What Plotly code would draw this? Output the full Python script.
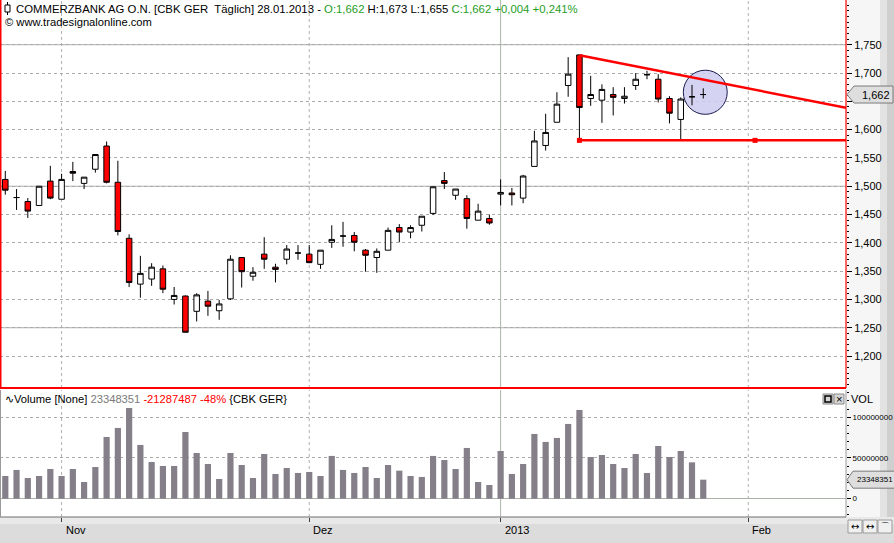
import plotly.graph_objects as go

# ---------------- data ----------------
idx = list(range(63))                       # trading-day index (25.10.2012 .. 28.01.2013)
month_ticks = [5, 27, 44, 66]               # 01.11., 03.12., 02.01.2013, 01.02.
month_labels = ["Nov", "Dez", "2013", "Feb"]
last_date = "28.01.2013"

open_ = [1.512, 1.480, 1.473, 1.466, 1.509, 1.477, 1.526, 1.505, 1.530, 1.571,
         1.507, 1.408, 1.327, 1.336, 1.354, 1.300, 1.306, 1.279, 1.297, 1.280,
         1.301, 1.374, 1.341, 1.380, 1.357, 1.371, 1.382, 1.380, 1.362, 1.401,
         1.412, 1.413, 1.387, 1.374, 1.387, 1.427, 1.419, 1.431, 1.452, 1.510,
         1.484, 1.478, 1.440, 1.443, 1.486, 1.488, 1.479, 1.535, 1.572, 1.613,
         1.678, 1.732, 1.655, 1.652, 1.662, 1.655, 1.678, 1.697, 1.689, 1.655,
         1.618, 1.658, 1.662]
high = [1.527, 1.495, 1.479, 1.500, 1.536, 1.522, 1.543, 1.516, 1.556, 1.579,
        1.545, 1.415, 1.377, 1.364, 1.360, 1.322, 1.307, 1.311, 1.315, 1.299,
        1.378, 1.374, 1.357, 1.410, 1.363, 1.396, 1.396, 1.396, 1.387, 1.431,
        1.437, 1.419, 1.389, 1.390, 1.427, 1.433, 1.431, 1.447, 1.499, 1.525,
        1.495, 1.484, 1.469, 1.450, 1.512, 1.497, 1.520, 1.598, 1.628, 1.666,
        1.728, 1.732, 1.695, 1.680, 1.675, 1.675, 1.700, 1.704, 1.698, 1.659,
        1.657, 1.679, 1.673]
low = [1.485, 1.458, 1.444, 1.466, 1.477, 1.477, 1.509, 1.495, 1.524, 1.505,
       1.413, 1.322, 1.303, 1.324, 1.311, 1.291, 1.242, 1.261, 1.271, 1.264,
       1.299, 1.321, 1.333, 1.354, 1.330, 1.362, 1.370, 1.364, 1.354, 1.391,
       1.393, 1.385, 1.349, 1.347, 1.387, 1.401, 1.408, 1.420, 1.449, 1.495,
       1.476, 1.425, 1.440, 1.432, 1.466, 1.466, 1.470, 1.535, 1.563, 1.613,
       1.658, 1.585, 1.642, 1.612, 1.625, 1.646, 1.670, 1.689, 1.648, 1.611,
       1.582, 1.643, 1.655]
close = [1.493, 1.480, 1.456, 1.500, 1.479, 1.512, 1.523, 1.516, 1.556, 1.507,
         1.420, 1.330, 1.346, 1.357, 1.318, 1.307, 1.242, 1.308, 1.288, 1.292,
         1.371, 1.349, 1.348, 1.371, 1.353, 1.389, 1.382, 1.365, 1.387, 1.406,
         1.412, 1.401, 1.378, 1.385, 1.422, 1.419, 1.427, 1.447, 1.499, 1.505,
         1.495, 1.443, 1.456, 1.435, 1.489, 1.485, 1.518, 1.580, 1.595, 1.645,
         1.698, 1.639, 1.662, 1.671, 1.657, 1.659, 1.689, 1.697, 1.654, 1.629,
         1.654, 1.658, 1.662]
volume_m = [27.9, 35.3, 25.4, 27.9, 36.5, 27.9, 36.5, 20.5, 38.9, 75.8,
            86.9, 111.4, 66.0, 45.1, 40.2, 40.2, 81.9, 56.1, 42.6, 24.2,
            56.1, 41.4, 25.4, 54.9, 30.3, 37.7, 31.6, 32.8, 27.9, 52.5,
            35.3, 31.6, 38.9, 25.4, 41.4, 34.4, 27.9, 26.7, 52.5, 47.5,
            36.5, 62.3, 20.5, 16.8, 58.6, 30.3, 42.6, 79.5, 69.7, 74.6,
            91.8, 109.0, 51.2, 53.7, 42.6, 37.7, 54.9, 31.6, 64.7, 51.2,
            58.6]
volume = [int(v * 1e6) for v in volume_m] + [44635838, 23348351]

price_ticks = [1.20, 1.25, 1.30, 1.35, 1.40, 1.45, 1.50, 1.55, 1.60, 1.65, 1.70, 1.75]
major_price_lines = [1.25, 1.50, 1.75]
vol_ticks = [0, 50000000, 100000000]

# drawn studies: resistance line, support line, highlight circle
res_x = [51, 74.68]
res_y = [1.7313, 1.6388]
sup_x = [51, 74.68]
sup_y = [1.581, 1.581]
sup_handle_x = [51, 66.6]
circle_cx, circle_cy, circle_rx, circle_ry = 62.18, 1.666, 1.95, 0.039

# ---------------- geometry helpers (pixels -> paper) ----------------
W, H = 894, 543
PLOT_R = 846
PRICE_BOTTOM = 388
VOL_TOP = 390
VOL_BOTTOM = 517


def fx(px):
    # paper x is relative to the plot area (0 .. PLOT_R px)
    return px / PLOT_R


def fy(py):
    return 1 - py / H


def fmt(v, d=3):
    return f"{v:.{d}f}".replace(".", ",")


FONT = "Liberation Sans"
GREEN = "#1f9d1f"

# price tick labels (the one hidden under the last-price marker stays blank)
price_ticktext = ["" if abs(v - close[-1]) < 0.02 else fmt(v) for v in price_ticks]

fig = go.Figure()
fig.add_trace(go.Candlestick(
    x=idx, open=open_, high=high, low=low, close=close,
    xaxis="x", yaxis="y",
    increasing=dict(line=dict(color="black", width=1), fillcolor="white"),
    decreasing=dict(line=dict(color="black", width=1), fillcolor="#ff0000"),
    whiskerwidth=0, hoverinfo="skip", showlegend=False))
fig.add_trace(go.Bar(
    x=idx, y=volume, xaxis="x", yaxis="y2",
    marker=dict(color="#847f88", line=dict(width=0)), width=0.55,
    hoverinfo="skip", showlegend=False))
fig.add_trace(go.Scatter(
    x=res_x, y=res_y, mode="lines", xaxis="x", yaxis="y",
    line=dict(color="#ff0000", width=2.5), hoverinfo="skip", showlegend=False))
fig.add_trace(go.Scatter(
    x=sup_x, y=sup_y, mode="lines", xaxis="x", yaxis="y",
    line=dict(color="#ff0000", width=2.5), hoverinfo="skip", showlegend=False))
fig.add_trace(go.Scatter(
    x=sup_handle_x, y=[sup_y[0]] * len(sup_handle_x), mode="markers", xaxis="x", yaxis="y",
    marker=dict(symbol="square", size=5, color="#ff0000"), hoverinfo="skip", showlegend=False))

shapes = []
# background of the axis strip and the date band
shapes.append(dict(type="rect", xref="paper", yref="paper", x0=fx(PLOT_R), x1=fx(W), y0=fy(VOL_BOTTOM), y1=1,
                   fillcolor="#f6f6f6", line=dict(width=0), layer="below"))
shapes.append(dict(type="rect", xref="paper", yref="paper", x0=fx(880), x1=fx(887), y0=fy(VOL_BOTTOM), y1=1,
                   fillcolor="#e2e2e2", line=dict(width=0), layer="below"))
shapes.append(dict(type="rect", xref="paper", yref="paper", x0=fx(887), x1=fx(W), y0=fy(VOL_BOTTOM), y1=1,
                   fillcolor="#cfcfcf", line=dict(width=0), layer="below"))
shapes.append(dict(type="rect", xref="paper", yref="paper", x0=0, x1=fx(W), y0=0, y1=fy(VOL_BOTTOM),
                   fillcolor="#dcdcdc", line=dict(width=0), layer="below"))
shapes.append(dict(type="rect", xref="paper", yref="paper", x0=0, x1=fx(W), y0=fy(524), y1=fy(VOL_BOTTOM),
                   fillcolor="#e9e9e9", line=dict(width=0), layer="below"))
shapes.append(dict(type="rect", xref="paper", yref="paper", x0=0, x1=fx(PLOT_R), y0=fy(VOL_TOP), y1=fy(PRICE_BOTTOM),
                   fillcolor="white", line=dict(width=0), layer="below"))

# solid major price lines
for v in major_price_lines:
    shapes.append(dict(type="line", xref="paper", yref="y", x0=0, x1=fx(PLOT_R), y0=v, y1=v,
                       line=dict(color="#a9b1a9", width=1), layer="below"))
# vertical month lines in both panes
for t, lab in zip(month_ticks, month_labels):
    dash = "solid" if lab == "2013" else "dot"
    col = "#a9b7a9" if lab == "2013" else "#b0b0b0"
    for y0, y1 in [(fy(PRICE_BOTTOM), 1), (fy(VOL_BOTTOM), fy(VOL_TOP))]:
        shapes.append(dict(type="line", xref="x", yref="paper", x0=t, x1=t, y0=y0, y1=y1,
                           line=dict(color=col, width=1, dash=dash), layer="below"))

# highlight circle
shapes.append(dict(type="circle", xref="x", yref="y",
                   x0=circle_cx - circle_rx, x1=circle_cx + circle_rx,
                   y0=circle_cy - circle_ry, y1=circle_cy + circle_ry,
                   fillcolor="rgba(205,205,240,0.85)", line=dict(color="#1a1a50", width=1), layer="between"))

# pane borders
shapes.append(dict(type="line", xref="paper", yref="paper", x0=fx(0.75), x1=fx(0.75), y0=fy(PRICE_BOTTOM), y1=1,
                   line=dict(color="#ff0000", width=1.5)))
shapes.append(dict(type="line", xref="paper", yref="paper", x0=fx(PLOT_R), x1=fx(PLOT_R), y0=fy(PRICE_BOTTOM), y1=1,
                   line=dict(color="#ff0000", width=1.2)))
shapes.append(dict(type="line", xref="paper", yref="paper", x0=0, x1=fx(PLOT_R), y0=fy(PRICE_BOTTOM), y1=fy(PRICE_BOTTOM),
                   line=dict(color="#ff0000", width=2)))
shapes.append(dict(type="line", xref="paper", yref="paper", x0=fx(PLOT_R), x1=fx(PLOT_R), y0=fy(VOL_BOTTOM), y1=fy(VOL_TOP),
                   line=dict(color="#9a9a9a", width=1)))
shapes.append(dict(type="line", xref="paper", yref="paper", x0=0, x1=fx(PLOT_R), y0=fy(VOL_BOTTOM), y1=fy(VOL_BOTTOM),
                   line=dict(color="#6e6e6e", width=1)))
shapes.append(dict(type="line", xref="paper", yref="paper", x0=fx(0.5), x1=fx(0.5), y0=fy(VOL_BOTTOM), y1=fy(VOL_TOP),
                   line=dict(color="#9a9a9a", width=1)))

# header icon (small candlestick)
shapes.append(dict(type="line", xref="paper", yref="paper", x0=fx(7.5), x1=fx(7.5), y0=fy(15), y1=fy(2),
                   line=dict(color="black", width=1)))
shapes.append(dict(type="rect", xref="paper", yref="paper", x0=fx(5), x1=fx(10), y0=fy(12), y1=fy(5),
                   fillcolor="white", line=dict(color="black", width=1)))

# last price marker (price pane)
c = close[-1]
dy = 8.5 / 566
shapes.append(dict(type="path", xref="paper", yref="y",
                   path=(f"M {fx(847)} {c} L {fx(854)} {c + dy} L {fx(893)} {c + dy} "
                         f"L {fx(893)} {c - dy} L {fx(854)} {c - dy} Z"),
                   fillcolor="#dedede", line=dict(color="#7a7a7a", width=1)))
# last volume marker
vv = volume[-1]
dv = 8.5 / 0.814e-6
shapes.append(dict(type="path", xref="paper", yref="y2",
                   path=(f"M {fx(847)} {vv} L {fx(853)} {vv + dv} L {fx(896)} {vv + dv} "
                         f"L {fx(896)} {vv - dv} L {fx(853)} {vv - dv} Z"),
                   fillcolor="#dedede", line=dict(color="#7a7a7a", width=1)))

# small window buttons
for x0 in (823, 834):
    shapes.append(dict(type="rect", xref="paper", yref="paper", x0=fx(x0), x1=fx(x0 + 10), y0=fy(404), y1=fy(394),
                       fillcolor="#d6d6d6", line=dict(color="#8a8a8a", width=1)))
shapes.append(dict(type="rect", xref="paper", yref="paper", x0=fx(825), x1=fx(831), y0=fy(402), y1=fy(396),
                   fillcolor="rgba(0,0,0,0)", line=dict(color="black", width=1.5)))
for x0 in (848, 863, 878):
    shapes.append(dict(type="rect", xref="paper", yref="paper", x0=fx(x0), x1=fx(x0 + 14), y0=fy(533), y1=fy(520),
                       fillcolor="#f0f0f0", line=dict(color="#9a9a9a", width=1)))

annotations = []
chg = close[-1] - close[-2]
pct = chg / close[-2] * 100
line1 = ("COMMERZBANK AG O.N. [CBK GER\u00a0 Täglich] " + last_date + " - "
         f"<span style='color:{GREEN}'>O:{fmt(open_[-1])}</span> H:{fmt(high[-1])} L:{fmt(low[-1])} "
         f"<span style='color:{GREEN}'>C:{fmt(close[-1])} {'+' if chg >= 0 else ''}{fmt(chg)} "
         f"{'+' if pct >= 0 else ''}{fmt(pct)}%</span>")
annotations.append(dict(text=line1, xref="paper", yref="paper", x=fx(14), y=fy(8.5), xanchor="left",
                        yanchor="middle", showarrow=False, font=dict(family=FONT, size=11.35, color="black")))
annotations.append(dict(text="© www.tradesignalonline.com", xref="paper", yref="paper", x=fx(3), y=fy(22.5),
                        xanchor="left", yanchor="middle", showarrow=False,
                        font=dict(family=FONT, size=11.2, color="black")))
vchg = volume[-1] - volume[-2]
vpct = vchg / volume[-2] * 100
vol_hdr = ("∿Volume [None] "
           f"<span style='color:#7a7a7a'>{volume[-1]}</span> "
           f"<span style='color:#ff0000'>{vchg} {vpct:.0f}%</span> {{CBK GER}}")
annotations.append(dict(text=vol_hdr, xref="paper", yref="paper", x=fx(3), y=fy(399), xanchor="left",
                        yanchor="middle", showarrow=False, font=dict(family=FONT, size=11.2, color="black")))
annotations.append(dict(text="VOL", xref="paper", yref="paper", x=fx(849), y=fy(399), xanchor="left",
                        yanchor="middle", showarrow=False, font=dict(family=FONT, size=11, color="black")))
annotations.append(dict(text=fmt(close[-1]), xref="paper", yref="y", x=fx(860), y=close[-1], xanchor="left",
                        yanchor="middle", showarrow=False, font=dict(family=FONT, size=11, color="black")))
annotations.append(dict(text=str(volume[-1]), xref="paper", yref="y2", x=fx(855), y=volume[-1],
                        xanchor="left", yanchor="middle", showarrow=False,
                        font=dict(family=FONT, size=8, color="black")))
annotations.append(dict(text="×", xref="paper", yref="paper", x=fx(839), y=fy(399), xanchor="center",
                        yanchor="middle", showarrow=False, font=dict(family=FONT, size=11, color="black")))
for x0, sym in zip((855, 870, 885), ("↔", "↔", "⌒")):
    annotations.append(dict(text=sym, xref="paper", yref="paper", x=fx(x0), y=fy(526.5), xanchor="center",
                            yanchor="middle", showarrow=False, font=dict(family="DejaVu Sans", size=10, color="black")))
for t, lab in zip(month_ticks, month_labels):
    annotations.append(dict(text=lab, xref="x", yref="paper", x=t, y=fy(530), xanchor="left", xshift=2,
                            yanchor="middle", showarrow=False, font=dict(family=FONT, size=11, color="black")))

fig.update_layout(
    width=W, height=H, template="none",
    margin=dict(l=0, r=W - PLOT_R, t=0, b=0, pad=0),
    paper_bgcolor="white", plot_bgcolor="white",
    separators=",.",
    showlegend=False,
    shapes=shapes, annotations=annotations,
    xaxis=dict(domain=[0, 1], range=[-0.47, 74.68], anchor="y2", tickmode="array", tickvals=month_ticks,
               ticktext=[""] * len(month_ticks), ticks="outside", ticklen=4, tickcolor="#404040",
               showgrid=False, zeroline=False, showline=False, rangeslider=dict(visible=False),
               automargin=False, fixedrange=True),
    yaxis=dict(domain=[fy(PRICE_BOTTOM), 1], range=[1.1435, 1.829], side="right", anchor="x",
               tickmode="array", tickvals=price_ticks, ticktext=price_ticktext, ticks="outside", ticklen=5,
               tickcolor="black", tickfont=dict(family=FONT, size=11, color="black"),
               showgrid=True, griddash="dot", gridcolor="#aaaaaa", gridwidth=1,
               minor=dict(tickmode="linear", tick0=1.0, dtick=0.01, ticks="outside", ticklen=2,
                          tickcolor="black", showgrid=False),
               zeroline=False, showline=False, automargin=False, fixedrange=True),
    yaxis2=dict(domain=[fy(VOL_BOTTOM), fy(VOL_TOP)], range=[-22.5e6, 133.5e6], side="right", anchor="x",
                tickmode="array", tickvals=vol_ticks, tickformat="d", ticks="outside", ticklen=4,
                ticklabelstandoff=0,
                tickcolor="black", tickfont=dict(family=FONT, size=8, color="black"),
                showgrid=True, griddash="dot", gridcolor="#aaaaaa", gridwidth=1,
                minor=dict(tickmode="linear", tick0=0, dtick=10e6, ticks="outside", ticklen=2,
                           tickcolor="black", showgrid=False),
                zeroline=True, zerolinecolor="#a9b1a9", zerolinewidth=1,
                showline=False, automargin=False, fixedrange=True),
)

fig.write_html("out.html", config={"displayModeBar": False},
               post_script="document.body.style.margin='0';")
